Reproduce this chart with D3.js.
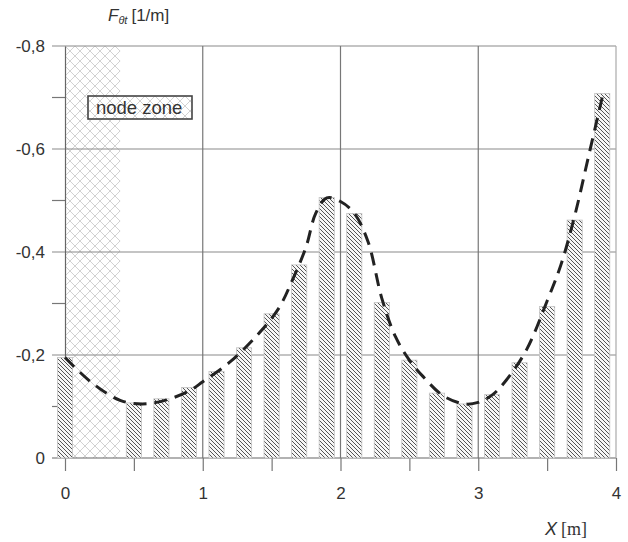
<!DOCTYPE html>
<html>
<head>
<meta charset="utf-8">
<script src="https://cdn.jsdelivr.net/npm/d3@7"></script>
<style>
  body { margin: 0; background: #fff; }
  svg text { font-family: "Liberation Sans", Arial, sans-serif; fill: #333; }
</style>
</head>
<body>
<script>
// bars: position along beam [m] and force value [1/m]
var barX = [0, 0.5, 0.7, 0.9, 1.1, 1.3, 1.5, 1.7, 1.9, 2.1, 2.3, 2.5, 2.7, 2.9, 3.1, 3.3, 3.5, 3.7, 3.9];
var barF = [-0.195, -0.107, -0.115, -0.137, -0.168, -0.214, -0.280, -0.375, -0.506, -0.475, -0.302,
            -0.190, -0.126, -0.105, -0.123, -0.185, -0.294, -0.462, -0.708];

// dashed curve
var curveX = [0, 0.2, 0.4, 0.55, 0.7, 0.9, 1.0, 1.2, 1.4, 1.55, 1.65, 1.75, 1.82, 1.9, 2.0, 2.1,
              2.2, 2.3, 2.4, 2.5, 2.6, 2.75, 2.9, 3.0, 3.1, 3.2, 3.35, 3.5, 3.6, 3.7, 3.8, 3.9];
var curveF = [-0.195, -0.145, -0.112, -0.105, -0.110, -0.130, -0.148, -0.187, -0.240, -0.290, -0.345,
              -0.410, -0.475, -0.505, -0.498, -0.475, -0.420, -0.310, -0.235, -0.190, -0.158, -0.120,
              -0.105, -0.108, -0.122, -0.150, -0.210, -0.305, -0.375, -0.470, -0.585, -0.700];

var nodeZone = [0, 0.4];
var xTicks = [0, 0.5, 1, 1.5, 2, 2.5, 3, 3.5, 4];
var xLabels = [0, 1, 2, 3, 4];
var yMajor = [0, -0.2, -0.4, -0.6, -0.8];
var yMinor = [-0.1, -0.3, -0.5, -0.7];

var margin = {top: 46, right: 12, bottom: 84, left: 65};
var width = 628 - margin.left - margin.right;
var height = 542 - margin.top - margin.bottom;

var svg = d3.select("body").append("svg")
    .attr("width", 628)
    .attr("height", 542);

var defs = svg.append("defs");

// hatch for bars
var hatch = defs.append("pattern")
    .attr("id", "hatch")
    .attr("patternUnits", "userSpaceOnUse")
    .attr("width", 4)
    .attr("height", 4);
hatch.append("rect").attr("width", 4).attr("height", 4).attr("fill", "#f6f6f6");
hatch.append("path")
    .attr("d", "M0,0L4,4M-1,3L1,5M3,-1L5,1")
    .attr("stroke", "#555")
    .attr("stroke-width", 1);

// cross hatch for the node zone
var cross = defs.append("pattern")
    .attr("id", "cross")
    .attr("patternUnits", "userSpaceOnUse")
    .attr("width", 10)
    .attr("height", 10);
cross.append("path")
    .attr("d", "M0,0L10,10M0,10L10,0M-1,9L1,11M9,-1L11,1M-1,1L1,-1M9,11L11,9")
    .attr("stroke", "#d2d2d2")
    .attr("stroke-width", 1);

var g = svg.append("g")
    .attr("transform", "translate(" + margin.left + "," + margin.top + ")");

var x = d3.scaleLinear().domain([0, 4]).range([0, width]);
var y = d3.scaleLinear().domain([0, -0.8]).range([height, 0]);

// node zone
g.append("rect")
    .attr("x", x(nodeZone[0]))
    .attr("y", y(-0.8))
    .attr("width", x(nodeZone[1]) - x(nodeZone[0]))
    .attr("height", y(0) - y(-0.8))
    .attr("fill", "url(#cross)");

// grid
g.selectAll(".hgrid")
    .data(yMajor)
    .enter().append("line")
    .attr("class", "hgrid")
    .attr("x1", -13).attr("x2", width)
    .attr("y1", function(d) { return y(d); })
    .attr("y2", function(d) { return y(d); })
    .attr("stroke", function(d) { return d === 0 ? "#666" : "#8a8a8a"; })
    .attr("stroke-width", 1.2);

g.selectAll(".vgrid")
    .data([1, 2, 3, 4])
    .enter().append("line")
    .attr("class", "vgrid")
    .attr("x1", function(d) { return x(d); })
    .attr("x2", function(d) { return x(d); })
    .attr("y1", 0).attr("y2", height)
    .attr("stroke", function(d) { return d === 4 ? "#aaa" : "#777"; })
    .attr("stroke-width", 1.2);

// minor y ticks
g.selectAll(".ymin")
    .data(yMinor)
    .enter().append("line")
    .attr("class", "ymin")
    .attr("x1", -13).attr("x2", 0)
    .attr("y1", function(d) { return y(d); })
    .attr("y2", function(d) { return y(d); })
    .attr("stroke", "#777")
    .attr("stroke-width", 1.2);

// axes
var yAxis = d3.axisLeft(y)
    .tickValues(yMajor)
    .tickSize(0)
    .tickPadding(20)
    .tickFormat(function(d) { return d === 0 ? "0" : d.toFixed(1).replace(".", ","); });

var yG = g.append("g").call(yAxis);
yG.select(".domain").attr("stroke", "#666").attr("stroke-width", 1.2);
yG.selectAll("text").style("font-size", "17px").attr("fill", "#333");

var xAxis = d3.axisBottom(x)
    .tickValues(xTicks)
    .tickSize(13)
    .tickSizeOuter(0)
    .tickFormat(function(d) { return xLabels.indexOf(d) >= 0 ? d : ""; });

var xG = g.append("g")
    .attr("transform", "translate(0," + height + ")")
    .call(xAxis);
xG.select(".domain").remove();
xG.selectAll("line").attr("stroke", "#777").attr("stroke-width", 1.2);
xG.selectAll("text").style("font-size", "17px").attr("fill", "#333").attr("dy", "1.45em");

// bars
var bw = x(0.11) - x(0);
g.selectAll(".bar")
    .data(barX)
    .enter().append("rect")
    .attr("class", "bar")
    .attr("x", function(d) { return x(d) - bw / 2; })
    .attr("y", function(d, i) { return y(barF[i]); })
    .attr("width", bw)
    .attr("height", function(d, i) { return y(0) - y(barF[i]); })
    .attr("fill", "url(#hatch)")
    .attr("stroke", "#c4c4c4")
    .attr("stroke-width", 0.8);

// dashed curve
var line = d3.line()
    .x(function(d) { return x(d); })
    .y(function(d, i) { return y(curveF[i]); })
    .curve(d3.curveCatmullRom);

g.append("path")
    .datum(curveX)
    .attr("d", line)
    .attr("fill", "none")
    .attr("stroke", "#222")
    .attr("stroke-width", 3)
    .attr("stroke-dasharray", "13,8");

// legend box
g.append("rect")
    .attr("x", 23).attr("y", 50)
    .attr("width", 104).attr("height", 23)
    .attr("fill", "url(#cross)")
    .attr("stroke", "#444")
    .attr("stroke-width", 1.6);
g.append("text")
    .attr("x", 31).attr("y", 68)
    .style("font-size", "18.5px")
    .text("node zone");

// axis titles
var yt = svg.append("text")
    .attr("x", 108).attr("y", 21)
    .style("font-size", "17px");
yt.append("tspan").style("font-style", "italic").text("F");
yt.append("tspan").style("font-style", "italic").style("font-size", "11px")
    .attr("dy", 3).text("θt");
yt.append("tspan").attr("dy", -3).attr("dx", 4).text("[1/m]");

var xt = svg.append("text")
    .attr("x", 545).attr("y", 535)
    .style("font-size", "18px");
xt.append("tspan").style("font-style", "italic").text("X");
xt.append("tspan").attr("dx", 4)
    .style("font-family", "'Liberation Serif', 'Times New Roman', serif")
    .text("[m]");
</script>
</body>
</html>
